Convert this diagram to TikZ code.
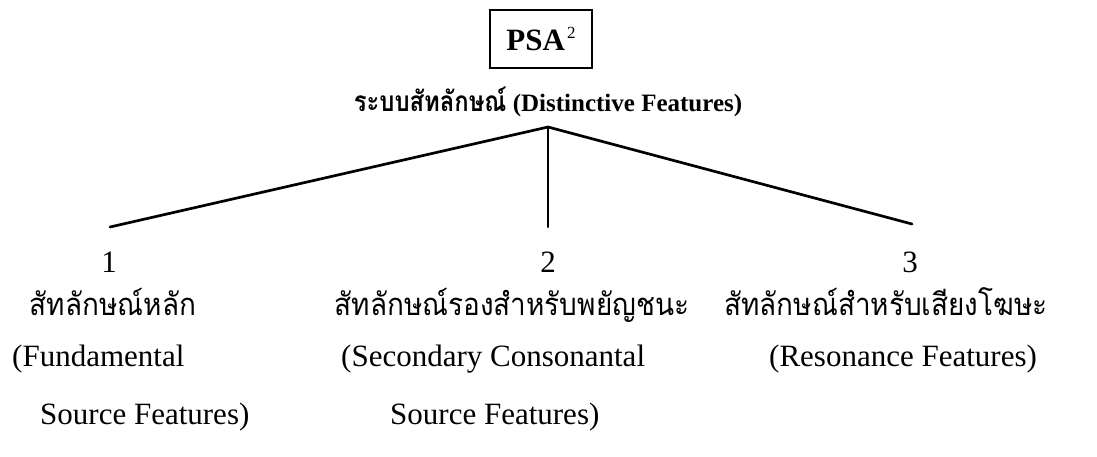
\documentclass[tikz,border=0pt]{standalone}
\usepackage{fontspec}
\setmainfont{Liberation Serif}
\newfontfamily\thaifont[Script=Thai, FakeStretch=0.9]{Loma}
\newfontfamily\thaititle[Script=Thai, FakeStretch=0.85]{Loma}
\tikzset{
  txt/.style={inner sep=0pt, font=\fontsize{31}{37}\selectfont},
  thtxt/.style={inner sep=0pt, font=\thaifont\fontsize{31}{37}\selectfont},
  branch/.style={line width=2.7pt, line cap=round},
}
\begin{document}
\begin{tikzpicture}[x=1pt,y=-1pt]
\useasboundingbox (0,0) rectangle (1097,456);
% top box
\node[draw, line width=1.8pt, minimum width=102pt, minimum height=58pt, inner sep=0pt,
      font=\fontsize{31}{37}\selectfont\bfseries] (psa) at (541,39)
  {PSA\kern2pt\raisebox{12pt}{\mdseries\fontsize{17}{17}\selectfont 2}};
% title
\node[inner sep=0pt, anchor=base, font=\fontsize{25}{30}\selectfont\bfseries] (title) at (548,111)
  {{\thaititle\fontsize{28}{32}\selectfont ระบบสัทลักษณ์}\ (Distinctive Features)};
% branch points
\coordinate (apex) at (548,127);
\coordinate (e1) at (110,227);
\coordinate (e2) at (548,227);
\coordinate (e3) at (912,224);
\draw[branch] (apex) -- (e1);
\draw[branch, line width=2pt] (apex) -- (e2);
\draw[branch] (apex) -- (e3);
% numbers
\node[txt, anchor=base] (n1) at (109,272) {1};
\node[txt, anchor=base] (n2) at (548,272) {2};
\node[txt, anchor=base] (n3) at (910,272) {3};
% column 1
\node[thtxt, anchor=base] (t1) at (113,315) {สัทลักษณ์หลัก};
\node[txt, anchor=base west] (f1) at (12,366) {(Fundamental};
\node[txt, anchor=base west] (s1) at (40,424) {Source Features)};
% column 2
\node[thtxt, anchor=base] (t2) at (512,315) {สัทลักษณ์รองสำหรับพยัญชนะ};
\node[txt, anchor=base west] (f2) at (341,366) {(Secondary Consonantal};
\node[txt, anchor=base west] (s2) at (390,424) {Source Features)};
% column 3
\node[thtxt, anchor=base] (t3) at (886,315) {สัทลักษณ์สำหรับเสียงโฆษะ};
\node[txt, anchor=base west] (f3) at (769,366) {(Resonance Features)};
\end{tikzpicture}
\end{document}
